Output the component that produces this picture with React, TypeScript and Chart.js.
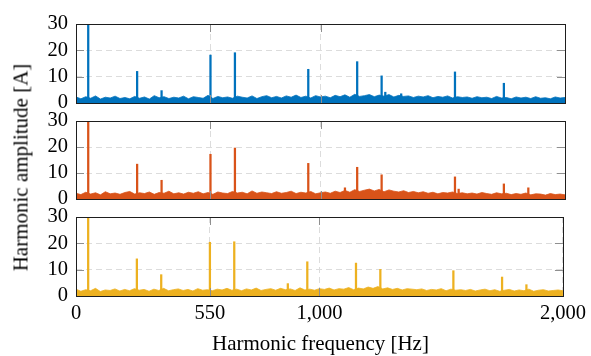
import React, { useEffect, useRef } from "react";
import { Chart, registerables } from "chart.js";

Chart.register(...registerables);
Chart.defaults.font.family = "'Liberation Serif', 'Times New Roman', serif";

// ---- data ----
const xTickValues = [0, 550, 1000, 2000];
const xTickLabels = ["0", "550", "1,000", "2,000"];
const yTickValues = [0, 10, 20, 30];
const noiseStepHz = 20;

const noiseBlue = [
  2.3, 1.6, 2.4, 1.8, 2.7, 1.5, 2.2, 1.9, 2.6, 1.7, 2.1,
  1.6, 2.5, 1.8, 2.3, 1.5, 2.8, 2.0, 2.4, 1.7, 2.2,
  1.9, 2.6, 1.6, 2.4, 2.1, 1.8, 2.9, 1.7, 2.5, 2.0,
  2.3, 1.8, 2.6, 2.2, 1.9, 2.7, 1.7, 2.4, 2.8, 2.0,
  2.5, 1.9, 2.7, 2.2, 3.0, 2.1, 2.6, 1.9, 2.8, 2.3,
  2.6, 2.0, 2.9, 2.4, 3.1, 2.2, 3.3, 2.5, 2.8, 3.2,
  2.4, 3.0, 2.6, 3.2, 2.3, 2.9, 2.5, 2.7, 2.1, 2.6,
  2.3, 2.8, 2.0, 2.5, 2.2, 2.7, 1.9, 2.4, 2.1, 2.3,
  1.8, 2.4, 2.0, 2.2, 1.7, 2.5, 1.9, 2.1, 1.6, 2.3,
  1.9, 2.2, 1.7, 2.4, 1.8, 2.0, 1.6, 2.3, 1.9, 2.1,
];
const noiseOrange = [
  2.2, 1.7, 2.6, 1.9, 2.4, 1.6, 2.8, 2.0, 2.3, 1.8, 2.5,
  2.9, 1.9, 2.4, 2.1, 2.7, 1.8, 2.5, 2.2, 3.0, 2.0,
  2.4, 1.9, 2.6, 2.2, 2.8, 2.0, 2.5, 1.8, 2.7, 2.3,
  2.1, 2.9, 2.3, 2.6, 2.0, 3.1, 2.2, 2.7, 2.4, 2.1,
  2.8, 2.2, 2.5, 3.0, 2.1, 2.6, 2.3, 2.9, 2.0, 2.4,
  2.7, 2.2, 3.0, 2.5, 3.3, 2.6, 3.6, 2.9, 3.4, 3.8,
  3.1, 3.7, 2.8, 3.5, 3.0, 2.7, 3.2, 2.5, 2.9, 2.4,
  2.8, 2.2, 2.6, 2.0, 2.5, 2.3, 2.7, 2.1, 2.4, 2.0,
  2.3, 1.9, 2.5, 2.1, 1.8, 2.4, 2.0, 2.2, 1.7, 2.1,
  1.8, 2.3, 1.6, 2.0, 1.9, 1.5, 2.1, 1.7, 1.9, 1.6,
];
const noiseYellow = [
  2.6, 1.8, 2.4, 2.0, 2.9, 1.7, 2.3, 2.1, 2.7, 1.9, 2.5,
  2.0, 2.8, 2.2, 2.5, 1.8, 2.6, 2.1, 2.9, 2.0, 2.4,
  2.7, 2.1, 2.5, 1.9, 2.8, 2.2, 2.4, 2.0, 2.6, 2.3,
  2.9, 2.2, 2.6, 2.0, 2.7, 2.3, 3.0, 2.1, 2.5, 2.8,
  2.2, 2.9, 2.4, 2.7, 2.1, 3.1, 2.3, 2.6, 2.2, 2.8,
  2.5, 3.0, 2.3, 2.8, 2.6, 3.2, 2.4, 3.0, 2.7, 3.4,
  2.9, 3.6, 2.7, 3.1, 2.5, 2.9, 2.3, 2.8, 2.6, 2.4,
  2.7, 2.1, 2.5, 2.3, 2.8, 2.0, 2.6, 2.2, 2.4, 2.1,
  2.5, 1.9, 2.3, 2.6, 2.0, 2.4, 1.8, 2.2, 2.5, 1.9,
  2.3, 2.0, 2.6, 1.8, 2.2, 2.4, 1.9, 2.1, 2.3, 2.0,
];

const spikeFreqBlue = [50, 250, 350, 550, 650, 950, 1150, 1250, 1265, 1330, 1550, 1750];
const spikeAmpBlue = [100, 12.0, 4.7, 18.2, 19.1, 12.8, 15.7, 10.3, 4.1, 3.5, 11.8, 7.5];

const spikeFreqOrange = [50, 250, 350, 550, 650, 950, 1100, 1150, 1250, 1550, 1565, 1750, 1850];
const spikeAmpOrange = [100, 13.4, 7.2, 17.2, 19.6, 13.7, 4.3, 12.2, 9.3, 8.5, 3.8, 5.8, 4.3];

const spikeFreqYellow = [50, 250, 350, 550, 650, 870, 950, 1150, 1250, 1550, 1750, 1850];
const spikeAmpYellow = [100, 14.1, 8.1, 20.4, 20.6, 4.7, 13.0, 12.5, 10.1, 9.6, 7.2, 4.3];

// ---- layout ----
const W = 591;
const H = 356;
const PLOT_LEFT = 76;
const PLOT_RIGHT = 565;
const TICK_FONT = 20.5;
const TITLE_FONT = 21;

const framePlugin = {
  id: "frameTicks",
  afterDatasetsDraw(chart: any) {
    const { ctx, chartArea: a, scales } = chart;
    const tl = 8;
    ctx.save();
    ctx.strokeStyle = "#8f8f8f";
    ctx.lineWidth = 1;
    ctx.beginPath();
    for (const v of xTickValues) {
      const px = Math.round(scales.x.getPixelForValue(v)) + 0.5;
      ctx.moveTo(px, a.top);
      ctx.lineTo(px, a.top + tl);
      ctx.moveTo(px, a.bottom);
      ctx.lineTo(px, a.bottom - tl);
    }
    for (const v of yTickValues) {
      const py = Math.round(scales.y.getPixelForValue(v)) + 0.5;
      ctx.moveTo(a.left, py);
      ctx.lineTo(a.left + tl, py);
      ctx.moveTo(a.right, py);
      ctx.lineTo(a.right - tl, py);
    }
    ctx.stroke();
    ctx.strokeStyle = "#1e1e1e";
    ctx.strokeRect(
      Math.round(a.left) + 0.5,
      Math.round(a.top) + 0.5,
      Math.round(a.right - a.left),
      Math.round(a.bottom - a.top)
    );
    ctx.restore();
  },
};

type PanelProps = {
  color: string;
  noise: number[];
  spikeFreq: number[];
  spikeAmp: number[];
  top: number;
  bottom: number;
  showX: boolean;
};

function Panel({ color, noise, spikeFreq, spikeAmp, top, bottom, showX }: PanelProps) {
  const ref = useRef<HTMLCanvasElement | null>(null);
  useEffect(() => {
    if (!ref.current) return;
    const xHeight = showX ? 40 : 0;
    const chart = new Chart(ref.current, {
      type: "line",
      data: {
        datasets: [
          {
            type: "bar",
            data: spikeFreq.map((f, i) => ({ x: f, y: spikeAmp[i] })),
            backgroundColor: color,
            borderWidth: 0,
            barThickness: 1.6,
          } as any,
          {
            type: "line",
            data: noise.map((v, i) => ({ x: i * noiseStepHz, y: v })),
            borderColor: color,
            backgroundColor: color,
            borderWidth: 0.8,
            fill: "origin",
            pointRadius: 0,
            tension: 0,
          },
        ],
      },
      options: {
        animation: false,
        responsive: false,
        devicePixelRatio: 1,
        layout: { padding: { left: 0, right: W - PLOT_RIGHT, top, bottom: H - bottom - xHeight } },
        plugins: { legend: { display: false }, tooltip: { enabled: false } },
        scales: {
          x: {
            type: "linear",
            min: 0,
            max: 2000,
            offset: false,
            afterBuildTicks: (s: any) => {
              s.ticks = xTickValues.map((v) => ({ value: v }));
            },
            afterFit: (s: any) => {
              s.height = xHeight;
            },
            grid: { color: "#dcdcdc", lineWidth: 1, drawTicks: false, offset: false },
            border: { display: false, dash: [6, 4] },
            ticks: {
              display: showX,
              padding: 5,
              color: "#000",
              font: { size: TICK_FONT },
              autoSkip: false,
              maxRotation: 0,
              callback: (_v: any, i: number) => xTickLabels[i],
            },
          },
          y: {
            type: "linear",
            min: 0,
            max: 30,
            afterBuildTicks: (s: any) => {
              s.ticks = yTickValues.map((v) => ({ value: v }));
            },
            afterFit: (s: any) => {
              s.width = PLOT_LEFT;
            },
            grid: { color: "#dcdcdc", lineWidth: 1, drawTicks: false },
            border: { display: false, dash: [6, 4] },
            ticks: {
              padding: 8,
              color: "#000",
              font: { size: TICK_FONT },
              autoSkip: false,
              callback: (v: any) => String(v),
            },
          },
        },
      } as any,
      plugins: [framePlugin],
    });
    return () => chart.destroy();
  }, []);
  return (
    <canvas
      ref={ref}
      width={W}
      height={H}
      style={{ position: "absolute", left: 0, top: 0, width: W, height: H }}
    />
  );
}

export default function App() {
  const font = "'Liberation Serif', 'Times New Roman', serif";
  return (
    <div style={{ position: "absolute", left: 0, top: 0, width: W, height: H, background: "#fff" }}>
      <Panel color="#0072BD" noise={noiseBlue} spikeFreq={spikeFreqBlue} spikeAmp={spikeAmpBlue} top={24} bottom={103} showX={false} />
      <Panel color="#D95319" noise={noiseOrange} spikeFreq={spikeFreqOrange} spikeAmp={spikeAmpOrange} top={121} bottom={199} showX={false} />
      <Panel color="#EDB120" noise={noiseYellow} spikeFreq={spikeFreqYellow} spikeAmp={spikeAmpYellow} top={217} bottom={296} showX={true} />
      <div
        style={{
          position: "absolute",
          left: 70,
          top: 333,
          width: 501,
          height: TITLE_FONT,
          lineHeight: TITLE_FONT + "px",
          fontSize: TITLE_FONT,
          fontFamily: font,
          textAlign: "center",
          whiteSpace: "nowrap",
          color: "#000",
        }}
      >
        Harmonic frequency [Hz]
      </div>
      <div
        style={{
          position: "absolute",
          left: 21 - 140,
          top: 167 - TITLE_FONT / 2,
          width: 280,
          height: TITLE_FONT,
          lineHeight: TITLE_FONT + "px",
          fontSize: TITLE_FONT,
          fontFamily: font,
          textAlign: "center",
          whiteSpace: "nowrap",
          color: "#000",
          transform: "rotate(-90deg)",
        }}
      >
        Harmonic amplitude [A]
      </div>
    </div>
  );
}
